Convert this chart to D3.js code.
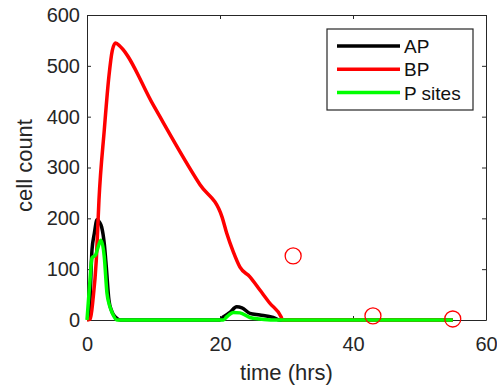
<!DOCTYPE html>
<html><head><meta charset="utf-8">
<script src="https://cdn.jsdelivr.net/npm/d3@7"></script>
<style>body{margin:0;background:#fff}text{font-family:"Liberation Sans",Arial,sans-serif}</style>
</head><body><svg id="c" width="497" height="386"></svg>
<script>
const xTicks = [0, 20, 40, 60];
const yTicks = [0, 100, 200, 300, 400, 500, 600];
const apT = [0, 0.3, 0.75, 1.1, 1.5, 1.9, 2.2, 2.6, 2.9, 3.3, 3.7, 4.0, 4.5, 5, 20, 20.5, 21.5, 22.5, 23.3, 24.5, 26, 28, 29, 55];
const apV = [0, 5, 138, 170, 197, 192, 183, 150, 105, 39, 18, 10, 3, 0, 0, 6, 15, 26, 24, 13, 10, 5, 0, 0];
const bpT = [0, 0.5, 0.9, 1.4, 1.8, 2.6, 3.3, 3.8, 4.3, 5, 10, 17, 20.3, 21, 22, 23, 24.5, 26, 27.5, 29.2, 29.4, 55];
const bpV = [0, 2, 40, 118, 236, 374, 480, 530, 545, 538, 422, 266, 203, 171, 134, 104, 85, 59, 33, 6, 0, 0];
const psT = [0, 0.4, 0.75, 1.3, 1.7, 2.1, 2.6, 3.0, 3.4, 3.8, 4.5, 20.5, 21, 22, 23, 24.5, 26, 28, 55];
const psV = [0, 70, 122, 128, 145, 157, 124, 53, 28, 14, 0, 0, 6, 15, 14, 5, 2, 0, 0];
const obsT = [31, 43, 55];
const obsV = [126, 8, 2];
const legendLabels = ["AP", "BP", "P sites"];
const colors = ["#000000", "#ff0000", "#00ff00"];

const svg = d3.select("#c");
const L = 87, R = 486, T = 15, B = 320;
const x = d3.scaleLinear().domain([0, 60]).range([L, R]);
const y = d3.scaleLinear().domain([0, 600]).range([B, T]);
const axCol = "#262626";

// axes first (lines drawn on top, as in the original)
const fmt = d3.format("d");
const gxB = svg.append("g").attr("transform", `translate(0,${B})`)
  .call(d3.axisBottom(x).tickValues(xTicks).tickFormat(fmt).tickSizeInner(-4).tickSizeOuter(0).tickPadding(17));
const gxT = svg.append("g").attr("transform", `translate(0,${T})`)
  .call(d3.axisTop(x).tickValues(xTicks).tickFormat("").tickSizeInner(-4).tickSizeOuter(0));
const gyL = svg.append("g").attr("transform", `translate(${L},0)`)
  .call(d3.axisLeft(y).tickValues(yTicks).tickFormat(fmt).tickSizeInner(-4).tickSizeOuter(0).tickPadding(7));
const gyR = svg.append("g").attr("transform", `translate(${R},0)`)
  .call(d3.axisRight(y).tickValues(yTicks).tickFormat("").tickSizeInner(-4).tickSizeOuter(0));
[gxB, gxT, gyL, gyR].forEach(g => {
  g.select(".domain").attr("stroke", axCol).attr("stroke-width", 1);
  g.selectAll(".tick line").attr("stroke", axCol);
  g.selectAll("text").attr("fill", axCol).attr("font-size", 20).attr("font-family", "Liberation Sans, Arial, sans-serif");
});
gxB.selectAll("text").attr("dy", "0.71em");

svg.append("text").attr("x", (L + R) / 2).attr("y", 380).attr("text-anchor", "middle")
  .attr("font-size", 22).attr("fill", axCol).text("time (hrs)");
svg.append("text").attr("transform", `translate(32,${(T + B) / 2 - 2}) rotate(-90)`).attr("text-anchor", "middle")
  .attr("font-size", 22).attr("fill", axCol).text("cell count");

const series = [[apT, apV], [bpT, bpV], [psT, psV]];
const line = d3.line().x(d => x(d[0])).y(d => y(d[1])).curve(d3.curveMonotoneX);
series.forEach((s, i) => {
  const pts = s[0].map((t, j) => [t, s[1][j]]);
  svg.append("path").datum(pts).attr("d", line).attr("fill", "none")
    .attr("stroke", colors[i]).attr("stroke-width", 3.5).attr("stroke-linejoin", "round");
});

svg.selectAll("circle.obs").data(obsT).enter().append("circle")
  .attr("cx", (d) => x(d)).attr("cy", (d, i) => y(obsV[i])).attr("r", 8)
  .attr("fill", "none").attr("stroke", "#ff0000").attr("stroke-width", 1.3);

// legend
const lg = svg.append("g");
lg.append("rect").attr("x", 327).attr("y", 29).attr("width", 146).attr("height", 81)
  .attr("fill", "#fff").attr("stroke", axCol).attr("stroke-width", 1.2);
legendLabels.forEach((lab, i) => {
  const yy = 46 + i * 23.3;
  lg.append("line").attr("x1", 337).attr("x2", 400).attr("y1", yy).attr("y2", yy)
    .attr("stroke", colors[i]).attr("stroke-width", 3.5);
  lg.append("text").attr("x", 404).attr("y", yy + 7).attr("font-size", 19).attr("fill", "#111").text(lab);
});
</script></body></html>
